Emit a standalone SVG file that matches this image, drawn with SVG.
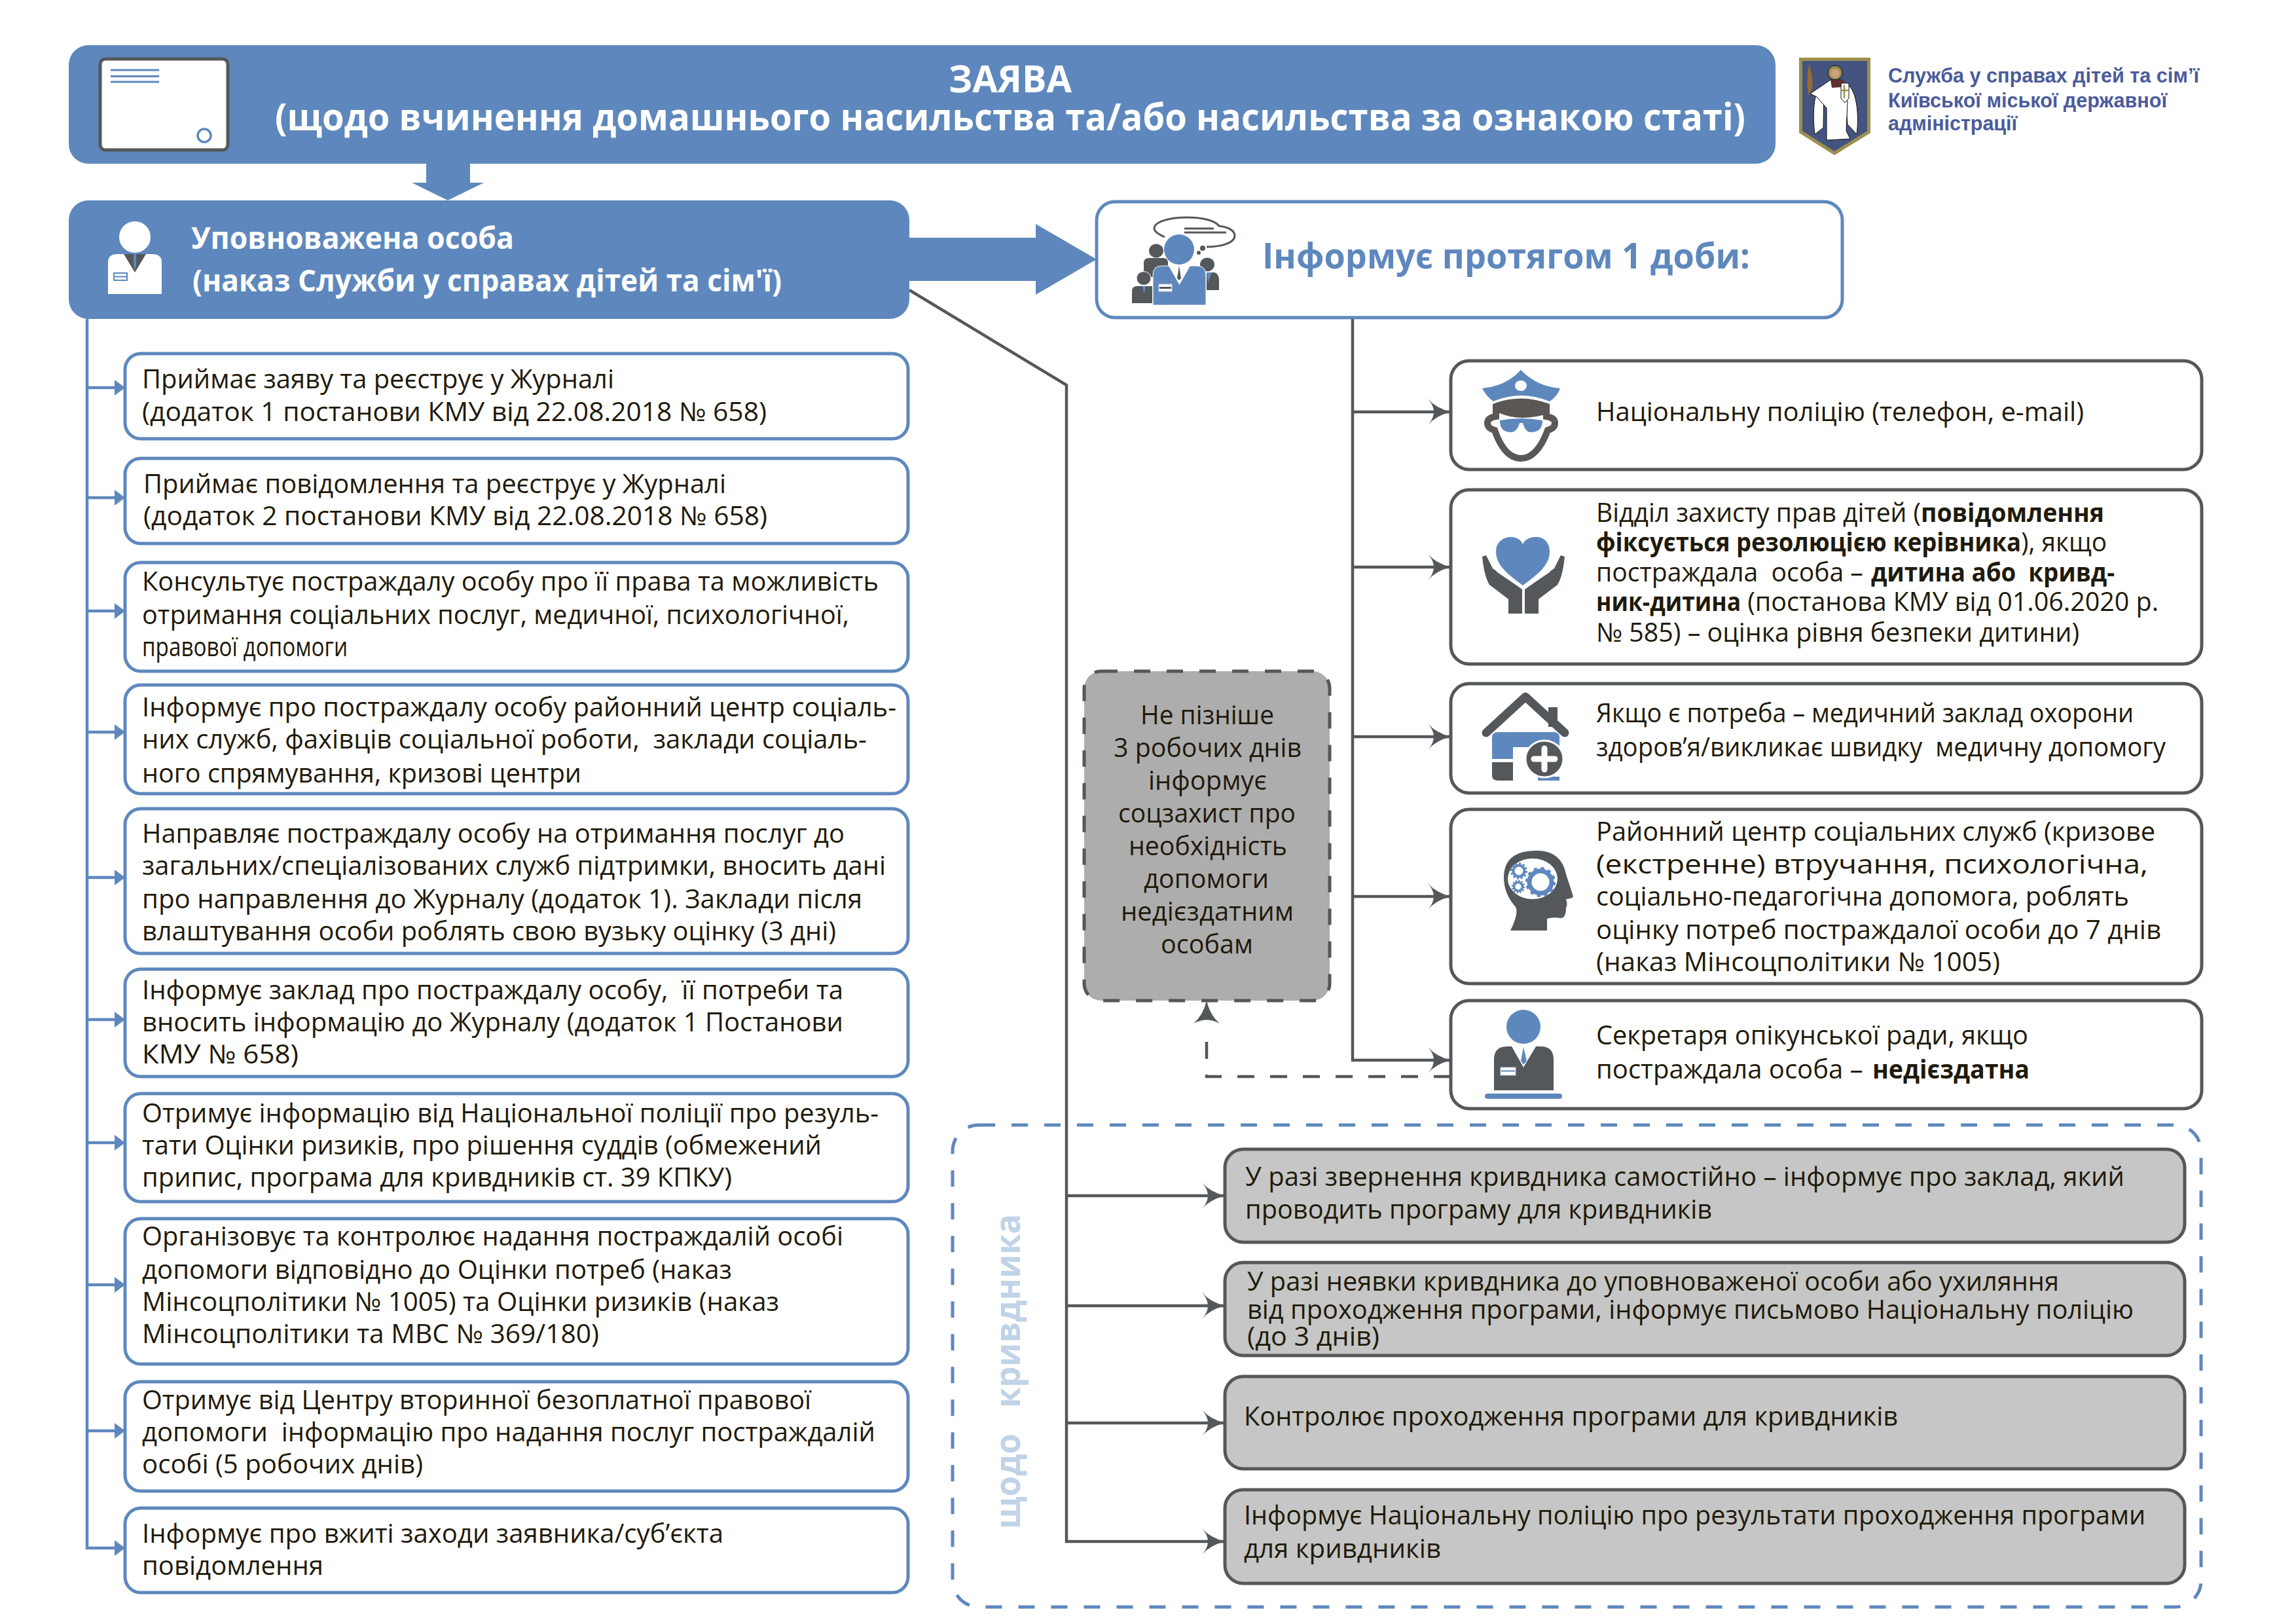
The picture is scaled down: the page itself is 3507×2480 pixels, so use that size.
<svg xmlns="http://www.w3.org/2000/svg" width="3507" height="2480" viewBox="0 0 3507 2480">
<style>
text{font-family:"Open Sans","Noto Sans","DejaVu Sans",sans-serif;font-size:40px;fill:#1f1a0a;white-space:pre}
.b{font-weight:700}
.w{fill:#fff;font-weight:700}
.blue{fill:#5e88bd}
.dark{fill:#54585b}
.wf{fill:#fff}
.lb{fill:#fff;stroke:#5e88bd;stroke-width:5}
.db{fill:#fff;stroke:#54585b;stroke-width:5}
.gb{fill:#c6c6c6;stroke:#54585b;stroke-width:5}
.cg{fill:none;stroke:#54585b;stroke-width:4.5}
.cb{fill:none;stroke:#5e88bd;stroke-width:4.5}
.org{font-family:"Liberation Sans",Arial,sans-serif;font-size:31px;font-weight:700;fill:#4b5b9b}
</style>
<defs>
<marker id="st" markerUnits="userSpaceOnUse" markerWidth="36" markerHeight="42" refX="35" refY="20" orient="auto"><path d="M0,0Q12,14 35,20Q12,26 0,40Q18,20 0,0Z" fill="#54585b"/></marker>
<marker id="tr" markerUnits="userSpaceOnUse" markerWidth="16" markerHeight="26" refX="16" refY="12" orient="auto"><path d="M0,0L16,12L0,24Z" fill="#5e88bd"/></marker>
</defs>

<g id="connectors">
<path class="cg" d="M1389,443L1629,588V2354H1871" marker-end="url(#st)"/>
<path class="cg" d="M1629,1826H1871" marker-end="url(#st)"/>
<path class="cg" d="M1629,1994H1871" marker-end="url(#st)"/>
<path class="cg" d="M1629,2173H1871" marker-end="url(#st)"/>
<path class="cg" d="M2066,485V1619H2216" marker-end="url(#st)"/>
<path class="cg" d="M2066,629H2216" marker-end="url(#st)"/>
<path class="cg" d="M2066,866H2216" marker-end="url(#st)"/>
<path class="cg" d="M2066,1125H2216" marker-end="url(#st)"/>
<path class="cg" d="M2066,1369H2216" marker-end="url(#st)"/>
<path class="cg" d="M2216,1644H1843V1569" stroke-dasharray="26 24"/>
<path d="M1823,1563Q1838,1550 1843,1528Q1848,1550 1863,1563Q1843,1552 1823,1563Z" fill="#54585b"/>
<path class="cb" d="M133,487V2364H191" marker-end="url(#tr)"/>
<path class="cb" d="M133,592H191" marker-end="url(#tr)"/>
<path class="cb" d="M133,760H191" marker-end="url(#tr)"/>
<path class="cb" d="M133,933H191" marker-end="url(#tr)"/>
<path class="cb" d="M133,1118H191" marker-end="url(#tr)"/>
<path class="cb" d="M133,1340H191" marker-end="url(#tr)"/>
<path class="cb" d="M133,1557H191" marker-end="url(#tr)"/>
<path class="cb" d="M133,1745H191" marker-end="url(#tr)"/>
<path class="cb" d="M133,1962H191" marker-end="url(#tr)"/>
<path class="cb" d="M133,2185H191" marker-end="url(#tr)"/>
<path d="M651,250H718V279H739L684,306L629,279H651Z" fill="#5e88bd"/>
<path d="M1389,363H1582V342L1675,396L1582,450V429H1389Z" fill="#5e88bd"/>
</g>

<g id="header">
<rect x="105" y="69" width="2607" height="181" rx="30" fill="#5e88bd"/>
<rect x="153" y="90" width="195" height="139" rx="8" fill="#fff" stroke="#54585b" stroke-width="5"/>
<path d="M169,107H243M169,116.500H243M169,125H243" stroke="#5e88bd" stroke-width="3" fill="none"/>
<ellipse cx="312" cy="207" rx="10" ry="10" fill="none" stroke="#5e88bd" stroke-width="3.500"/>
<text class="w" x="1449" y="141" font-size="58" style="font-size:58px" textLength="188" lengthAdjust="spacingAndGlyphs">ЗАЯВА</text>
<text class="w" x="420" y="199" style="font-size:58px" textLength="2246" lengthAdjust="spacingAndGlyphs">(щодо вчинення домашнього насильства та/або насильства за ознакою статі)</text>
</g>

<g id="emblem">
<path d="M2748,88H2857V203L2802,237L2748,203Z" fill="#9d8f4f"/>
<path d="M2753,93H2852V200L2802,231L2753,200Z" fill="#44547f"/>
<path d="M2786,130C2770,130 2768,175 2772,205L2785,195Z" fill="#fff" stroke="#111" stroke-width="1"/>
<path d="M2817,128C2836,130 2840,175 2836,205L2822,190Z" fill="#fff" stroke="#111" stroke-width="1"/>
<circle cx="2803" cy="111" r="11" fill="#9d8f4f" stroke="#111" stroke-width="1"/>
<circle cx="2803" cy="112" r="7" fill="#c9a27e"/>
<path d="M2796,122L2812,122L2822,155L2820,200L2826,212L2790,214L2790,165L2775,148L2765,143L2796,122Z" fill="#fff" stroke="#111" stroke-width="1"/>
<path d="M2796,122L2817,122L2815,133L2798,134Z" fill="#5f2e2e"/>
<path d="M2812,127H2824V150L2818,157L2812,150Z" fill="#fff" stroke="#111" stroke-width="1"/>
<path d="M2817,130V150M2811,138H2823" stroke="#9d8f4f" stroke-width="2.500"/>
<path d="M2763,98Q2770,118 2768,135L2763,146Q2758,125 2763,98Z" fill="#9a6b2c"/>
</g>
<g id="org-name">
<text class="org" x="2884" y="126" textLength="475" lengthAdjust="spacingAndGlyphs">Служба у справах дітей та сім’ї</text>
<text class="org" x="2884" y="164" textLength="426" lengthAdjust="spacingAndGlyphs">Київської міської державної</text>
<text class="org" x="2884" y="199" textLength="197" lengthAdjust="spacingAndGlyphs">адміністрації</text>
</g>

<g id="authorized-person">
<rect x="105" y="306" width="1284" height="181" rx="30" fill="#5e88bd"/>
<ellipse cx="206" cy="362" rx="24" ry="24" fill="#fff"/>
<path d="M165,449V400Q165,388 180,388H232Q247,388 247,400V449Z" fill="#fff"/>
<path d="M189,388H223L206,416Z" fill="#54585b"/>
<path d="M204,388H208L208,405L206,412L204,405Z" fill="#5e88bd"/>
<rect x="174" y="417" width="20" height="11" fill="none" stroke="#5e88bd" stroke-width="2"/>
<path d="M174,422.500H194" stroke="#5e88bd" stroke-width="2"/>
<text class="w" x="292" y="380" style="font-size:46px" textLength="493" lengthAdjust="spacingAndGlyphs">Уповноважена особа</text>
<text class="w" x="294" y="445" style="font-size:46px" textLength="900" lengthAdjust="spacingAndGlyphs">(наказ Служби у справах дітей та сім'ї)</text>
</g>

<g id="inform-24h">
<rect x="1675" y="308" width="1139" height="177" rx="28" class="lb"/>
<path d="M1779,362C1768,357 1763,353 1763,349C1763,338 1788,332 1813,332C1838,332 1856,337 1862,345C1878,347 1886,353 1886,360C1886,371 1865,377 1843,377" fill="none" stroke="#54585b" stroke-width="3"/>
<path d="M1809,349H1854M1809,355H1873" stroke="#54585b" stroke-width="3"/>
<circle cx="1837" cy="379" r="4" class="dark"/><circle cx="1831" cy="386" r="3" class="dark"/>
<ellipse cx="1766" cy="383" rx="11" ry="10.500" class="dark"/>
<path d="M1747,423V402Q1747,394 1755,394H1777Q1784,394 1784,402V423Z" class="dark"/>
<ellipse cx="1844" cy="404" rx="11" ry="10.500" class="dark"/>
<path d="M1843,443V416H1855Q1862,418 1862,428V443Z" class="dark"/>
<path d="M1843,416L1851,416L1845,432Z" fill="#5e88bd"/>
<ellipse cx="1747" cy="425" rx="11" ry="10.500" class="dark" stroke="#fff" stroke-width="1"/>
<path d="M1729,463V445Q1729,437 1737,437H1760V463Z" class="dark"/>
<path d="M1745,437H1750L1747.500,449Z" fill="#5e88bd"/>
<ellipse cx="1801" cy="381" rx="23" ry="23" fill="#5e88bd"/>
<path d="M1761,466V420Q1761,406 1775,406H1828Q1842,406 1842,420V466Z" fill="#5e88bd" stroke="#fff" stroke-width="1"/>
<path d="M1785,406L1801.500,435L1818,406Z" fill="#fff"/>
<path d="M1801,406L1804,425L1801,428L1798,425Z" fill="#54585b"/>
<rect x="1770" y="434" width="20" height="11" fill="#fff" stroke="#ccc" stroke-width="1"/>
<rect x="1771" y="438" width="18" height="3" fill="#54585b"/>
<text class="b blue" x="1928" y="410" style="font-size:54px" textLength="745" lengthAdjust="spacingAndGlyphs">Інформує протягом 1 доби:</text>
</g>

<g id="step-1"><rect class="lb" x="191" y="540" width="1196" height="130" rx="24"/>
<text x="217" y="593" textLength="721" lengthAdjust="spacingAndGlyphs">Приймає заяву та реєструє у Журналі</text>
<text x="217" y="643" textLength="954" lengthAdjust="spacingAndGlyphs">(додаток 1 постанови КМУ від 22.08.2018 № 658)</text></g>
<g id="step-2"><rect class="lb" x="191" y="700" width="1196" height="130" rx="24"/>
<text x="219" y="753" textLength="890" lengthAdjust="spacingAndGlyphs">Приймає повідомлення та реєструє у Журналі</text>
<text x="219" y="802" textLength="953" lengthAdjust="spacingAndGlyphs">(додаток 2 постанови КМУ від 22.08.2018 № 658)</text></g>
<g id="step-3"><rect class="lb" x="191" y="859" width="1196" height="166" rx="24"/>
<text x="217" y="902" textLength="1125" lengthAdjust="spacingAndGlyphs">Консультує постраждалу особу про її права та можливість</text>
<text x="217" y="953" textLength="1080" lengthAdjust="spacingAndGlyphs">отримання соціальних послуг, медичної, психологічної,</text>
<text x="217" y="1002" textLength="314" lengthAdjust="spacingAndGlyphs">правової допомоги</text></g>
<g id="step-4"><rect class="lb" x="191" y="1046" width="1196" height="166" rx="24"/>
<text x="217" y="1094" textLength="1152" lengthAdjust="spacingAndGlyphs">Інформує про постраждалу особу районний центр соціаль-</text>
<text x="217" y="1143" textLength="1107" lengthAdjust="spacingAndGlyphs">них служб, фахівців соціальної роботи,  заклади соціаль-</text>
<text x="217" y="1195" textLength="671" lengthAdjust="spacingAndGlyphs">ного спрямування, кризові центри</text></g>
<g id="step-5"><rect class="lb" x="191" y="1235" width="1196" height="221" rx="24"/>
<text x="217" y="1287" textLength="1073" lengthAdjust="spacingAndGlyphs">Направляє постраждалу особу на отримання послуг до</text>
<text x="217" y="1336" textLength="1136" lengthAdjust="spacingAndGlyphs">загальних/спеціалізованих служб підтримки, вносить дані</text>
<text x="217" y="1387" textLength="1100" lengthAdjust="spacingAndGlyphs">про направлення до Журналу (додаток 1). Заклади після</text>
<text x="217" y="1436" textLength="1060" lengthAdjust="spacingAndGlyphs">влаштування особи роблять свою вузьку оцінку (3 дні)</text></g>
<g id="step-6"><rect class="lb" x="191" y="1480" width="1196" height="164" rx="24"/>
<text x="217" y="1526" textLength="1071" lengthAdjust="spacingAndGlyphs">Інформує заклад про постраждалу особу,  її потреби та</text>
<text x="217" y="1575" textLength="1071" lengthAdjust="spacingAndGlyphs">вносить інформацію до Журналу (додаток 1 Постанови</text>
<text x="217" y="1624" textLength="239" lengthAdjust="spacingAndGlyphs">КМУ № 658)</text></g>
<g id="step-7"><rect class="lb" x="191" y="1670" width="1196" height="165" rx="24"/>
<text x="217" y="1714" textLength="1125" lengthAdjust="spacingAndGlyphs">Отримує інформацію від Національної поліції про резуль-</text>
<text x="217" y="1763" textLength="1038" lengthAdjust="spacingAndGlyphs">тати Оцінки ризиків, про рішення суддів (обмежений</text>
<text x="217" y="1812" textLength="901" lengthAdjust="spacingAndGlyphs">припис, програма для кривдників ст. 39 КПКУ)</text></g>
<g id="step-8"><rect class="lb" x="191" y="1861" width="1196" height="222" rx="24"/>
<text x="217" y="1902" textLength="1071" lengthAdjust="spacingAndGlyphs">Організовує та контролює надання постраждалій особі</text>
<text x="217" y="1953" textLength="901" lengthAdjust="spacingAndGlyphs">допомоги відповідно до Оцінки потреб (наказ</text>
<text x="217" y="2002" textLength="973" lengthAdjust="spacingAndGlyphs">Мінсоцполітики № 1005) та Оцінки ризиків (наказ</text>
<text x="217" y="2051" textLength="698" lengthAdjust="spacingAndGlyphs">Мінсоцполітики та МВС № 369/180)</text></g>
<g id="step-9"><rect class="lb" x="191" y="2110" width="1196" height="167" rx="24"/>
<text x="217" y="2152" textLength="1022" lengthAdjust="spacingAndGlyphs">Отримує від Центру вторинної безоплатної правової</text>
<text x="217" y="2201" textLength="1120" lengthAdjust="spacingAndGlyphs">допомоги  інформацію про надання послуг постраждалій</text>
<text x="217" y="2250" textLength="429" lengthAdjust="spacingAndGlyphs">особі (5 робочих днів)</text></g>
<g id="step-10"><rect class="lb" x="191" y="2303" width="1196" height="129" rx="24"/>
<text x="217" y="2356" textLength="888" lengthAdjust="spacingAndGlyphs">Інформує про вжиті заходи заявника/суб’єкта</text>
<text x="217" y="2405" textLength="277" lengthAdjust="spacingAndGlyphs">повідомлення</text></g>

<g id="police"><rect class="db" x="2216" y="551" width="1147" height="166" rx="28"/>
<path d="M2264,593Q2300,590 2323,565Q2347,590 2383,593Q2379,605 2367,613Q2323,595 2281,613Q2270,605 2264,593Z" fill="#5e88bd"/>
<ellipse cx="2323" cy="589" rx="9" ry="8" fill="#fff"/>
<path d="M2280,617Q2323,600 2367,617V631Q2323,645 2291,631H2280Z" fill="#5a5755"/>
<path d="M2285,628V636Q2272,638 2272,646Q2272,654 2283,657Q2298,700 2323,700Q2348,700 2364,657Q2375,654 2375,646Q2375,638 2362,636V628" fill="none" stroke="#5a5755" stroke-width="10"/>
<path d="M2291,642Q2323,636 2356,642Q2356,660 2338,660Q2330,660 2326,646H2321Q2317,660 2308,660Q2291,660 2291,642Z" fill="#5e88bd"/>
<text x="2438" y="643" textLength="745" lengthAdjust="spacingAndGlyphs">Національну поліцію (телефон, e-mail)</text></g>

<g id="child-protection"><rect class="db" x="2216" y="748" width="1147" height="266" rx="28"/>
<path d="M2326,894C2300,875 2285,862 2285,842C2285,828 2296,820 2308,820C2316,820 2323,824 2326,831C2329,824 2336,820 2346,820C2358,820 2367,828 2367,842C2367,862 2352,875 2326,894Z" fill="#5e88bd"/>
<path d="M2264,850L2270,848L2280,868L2318,895L2325,900V937H2304V915L2275,893Q2267,880 2264,850Z" class="dark"/>
<path d="M2390,850L2384,848L2374,868L2336,895L2329,900V937H2350V915L2379,893Q2387,880 2390,850Z" class="dark"/>
<path d="M2287,872L2318,893" stroke="#fff" stroke-width="3"/><path d="M2367,872L2336,893" stroke="#fff" stroke-width="3"/>
<text x="2438" y="797" textLength="496" lengthAdjust="spacingAndGlyphs">Відділ захисту прав дітей (</text>
<text class="b" x="2934" y="797" textLength="280" lengthAdjust="spacingAndGlyphs">повідомлення</text>
<text class="b" x="2438" y="842" textLength="649" lengthAdjust="spacingAndGlyphs">фіксується резолюцією керівника</text>
<text x="3087" y="842" textLength="131" lengthAdjust="spacingAndGlyphs">), якщо</text>
<text x="2438" y="888" textLength="418" lengthAdjust="spacingAndGlyphs">постраждала  особа – </text>
<text class="b" x="2858" y="888" textLength="372" lengthAdjust="spacingAndGlyphs">дитина або  кривд-</text>
<text class="b" x="2438" y="933" textLength="221" lengthAdjust="spacingAndGlyphs">ник-дитина</text>
<text x="2659" y="933" textLength="638" lengthAdjust="spacingAndGlyphs"> (постанова КМУ від 01.06.2020 р.</text>
<text x="2438" y="980" textLength="738" lengthAdjust="spacingAndGlyphs">№ 585) – оцінка рівня безпеки дитини)</text></g>

<g id="medical"><rect class="db" x="2216" y="1044" width="1147" height="167" rx="28"/>
<path d="M2365,1080H2379V1110H2365Z" class="dark"/>
<path d="M2270,1119L2330,1064L2390,1119" fill="none" stroke="#54585b" stroke-width="13" stroke-linecap="round" stroke-linejoin="round"/>
<path d="M2279,1159V1126Q2279,1118 2288,1118H2373Q2382,1118 2382,1126V1141H2311V1159Z" fill="#5e88bd"/>
<path d="M2279,1164H2311V1192H2288Q2279,1192 2279,1184Z" class="dark"/>
<path d="M2349,1186H2382V1192H2349Z" fill="#5e88bd"/>
<ellipse cx="2359" cy="1159" rx="29" ry="28" class="dark" stroke="#fff" stroke-width="3"/>
<path d="M2359,1143V1175M2343,1159H2375" stroke="#fff" stroke-width="9" stroke-linecap="round"/>
<text x="2438" y="1103" textLength="821" lengthAdjust="spacingAndGlyphs">Якщо є потреба – медичний заклад охорони</text>
<text x="2438" y="1155" textLength="870" lengthAdjust="spacingAndGlyphs">здоров’я/викликає швидку  медичну допомогу</text></g>

<g id="social-center"><rect class="db" x="2216" y="1236" width="1147" height="266" rx="28"/>
<path d="M2307,1421Q2320,1395 2315,1385Q2297,1365 2297,1340Q2297,1299 2347,1299Q2385,1299 2392,1335L2403,1369Q2402,1372 2392,1373Q2395,1382 2392,1386Q2392,1402 2384,1402Q2370,1400 2363,1403Q2363,1412 2363,1421Z" class="dark"/>
<ellipse cx="2341" cy="1342" rx="38" ry="31" fill="#fff"/>
<circle cx="2353" cy="1347" r="17" fill="none" stroke="#5e88bd" stroke-width="7"/>
<circle cx="2353" cy="1347" r="21" fill="none" stroke="#5e88bd" stroke-width="4" stroke-dasharray="5 5.990"/>
<circle cx="2320" cy="1330" r="8.500" fill="none" stroke="#5e88bd" stroke-width="4"/>
<circle cx="2320" cy="1330" r="11.500" fill="none" stroke="#5e88bd" stroke-width="3" stroke-dasharray="3 3"/>
<circle cx="2319" cy="1354" r="6.500" fill="none" stroke="#5e88bd" stroke-width="3.500"/>
<circle cx="2319" cy="1354" r="9" fill="none" stroke="#5e88bd" stroke-width="2.500" stroke-dasharray="2.500 2.200"/>
<text x="2438" y="1284" textLength="854" lengthAdjust="spacingAndGlyphs">Районний центр соціальних служб (кризове</text>
<text x="2438" y="1334" textLength="843" lengthAdjust="spacingAndGlyphs">(екстренне) втручання, психологічна,</text>
<text x="2438" y="1383" textLength="814" lengthAdjust="spacingAndGlyphs">соціально-педагогічна допомога, роблять</text>
<text x="2438" y="1434" textLength="863" lengthAdjust="spacingAndGlyphs">оцінку потреб постраждалої особи до 7 днів</text>
<text x="2438" y="1483" textLength="617" lengthAdjust="spacingAndGlyphs">(наказ Мінсоцполітики № 1005)</text></g>

<g id="guardianship"><rect class="db" x="2216" y="1528" width="1147" height="165" rx="28"/>
<circle cx="2327" cy="1568" r="26" fill="#5e88bd"/>
<path d="M2282,1665V1618Q2282,1598 2302,1598H2353Q2373,1598 2373,1618V1665Z" class="dark"/>
<path d="M2309,1598L2327,1630L2346,1598Z" fill="#fff"/>
<path d="M2327,1599L2332,1620L2327,1626L2323,1620Z" fill="#5e88bd"/>
<rect x="2292" y="1630" width="23" height="12" fill="#fff" stroke="#b9cbe2" stroke-width="1"/>
<rect x="2293" y="1634" width="21" height="3" fill="#8fadd0"/>
<rect x="2268" y="1670" width="118" height="8" rx="4" fill="#5e88bd"/>
<text x="2438" y="1595" textLength="660" lengthAdjust="spacingAndGlyphs">Секретаря опікунської ради, якщо</text>
<text x="2438" y="1647" textLength="418" lengthAdjust="spacingAndGlyphs">постраждала особа – </text>
<text class="b" x="2860" y="1647" textLength="240" lengthAdjust="spacingAndGlyphs">недієздатна</text></g>

<g id="social-protection-note"><rect x="1656" y="1025" width="375" height="503" rx="26" fill="#aeadae" stroke="#54585b" stroke-width="5" stroke-dasharray="25 25"/>
<text x="1742" y="1106" textLength="204" lengthAdjust="spacingAndGlyphs">Не пізніше</text>
<text x="1701" y="1156" textLength="287" lengthAdjust="spacingAndGlyphs">3 робочих днів</text>
<text x="1754" y="1206" textLength="181" lengthAdjust="spacingAndGlyphs">інформує</text>
<text x="1708" y="1256" textLength="271" lengthAdjust="spacingAndGlyphs">соцзахист про</text>
<text x="1724" y="1306" textLength="242" lengthAdjust="spacingAndGlyphs">необхідність</text>
<text x="1747" y="1356" textLength="191" lengthAdjust="spacingAndGlyphs">допомоги</text>
<text x="1712" y="1406" textLength="264" lengthAdjust="spacingAndGlyphs">недієздатним</text>
<text x="1773" y="1456" textLength="141" lengthAdjust="spacingAndGlyphs">особам</text></g>

<g id="offender-frame"><rect x="1455" y="1718" width="1907" height="736" rx="40" fill="none" stroke="#5e88bd" stroke-width="5" stroke-dasharray="25 25"/>
<text class="b" transform="translate(1558,2335) rotate(-90)" style="font-size:54px;fill:#c0d3e7" textLength="481" lengthAdjust="spacingAndGlyphs">щодо   кривдника</text></g>

<g id="offender-1"><rect class="gb" x="1871" y="1755" width="1466" height="142" rx="28"/>
<text x="1902" y="1811" textLength="1343" lengthAdjust="spacingAndGlyphs">У разі звернення кривдника самостійно – інформує про заклад, який</text>
<text x="1902" y="1861" textLength="713" lengthAdjust="spacingAndGlyphs">проводить програму для кривдників</text></g>
<g id="offender-2"><rect class="gb" x="1871" y="1928" width="1466" height="142" rx="28"/>
<text x="1905" y="1971" textLength="1240" lengthAdjust="spacingAndGlyphs">У разі неявки кривдника до уповноваженої особи або ухиляння</text>
<text x="1905" y="2014" textLength="1354" lengthAdjust="spacingAndGlyphs">від проходження програми, інформує письмово Національну поліцію</text>
<text x="1905" y="2055" textLength="202" lengthAdjust="spacingAndGlyphs">(до 3 днів)</text></g>
<g id="offender-3"><rect class="gb" x="1871" y="2102" width="1466" height="141" rx="28"/>
<text x="1900" y="2177" textLength="999" lengthAdjust="spacingAndGlyphs">Контролює проходження програми для кривдників</text></g>
<g id="offender-4"><rect class="gb" x="1871" y="2275" width="1466" height="143" rx="28"/>
<text x="1900" y="2328" textLength="1377" lengthAdjust="spacingAndGlyphs">Інформує Національну поліцію про результати проходження програми</text>
<text x="1900" y="2379" textLength="301" lengthAdjust="spacingAndGlyphs">для кривдників</text></g>
</svg>
